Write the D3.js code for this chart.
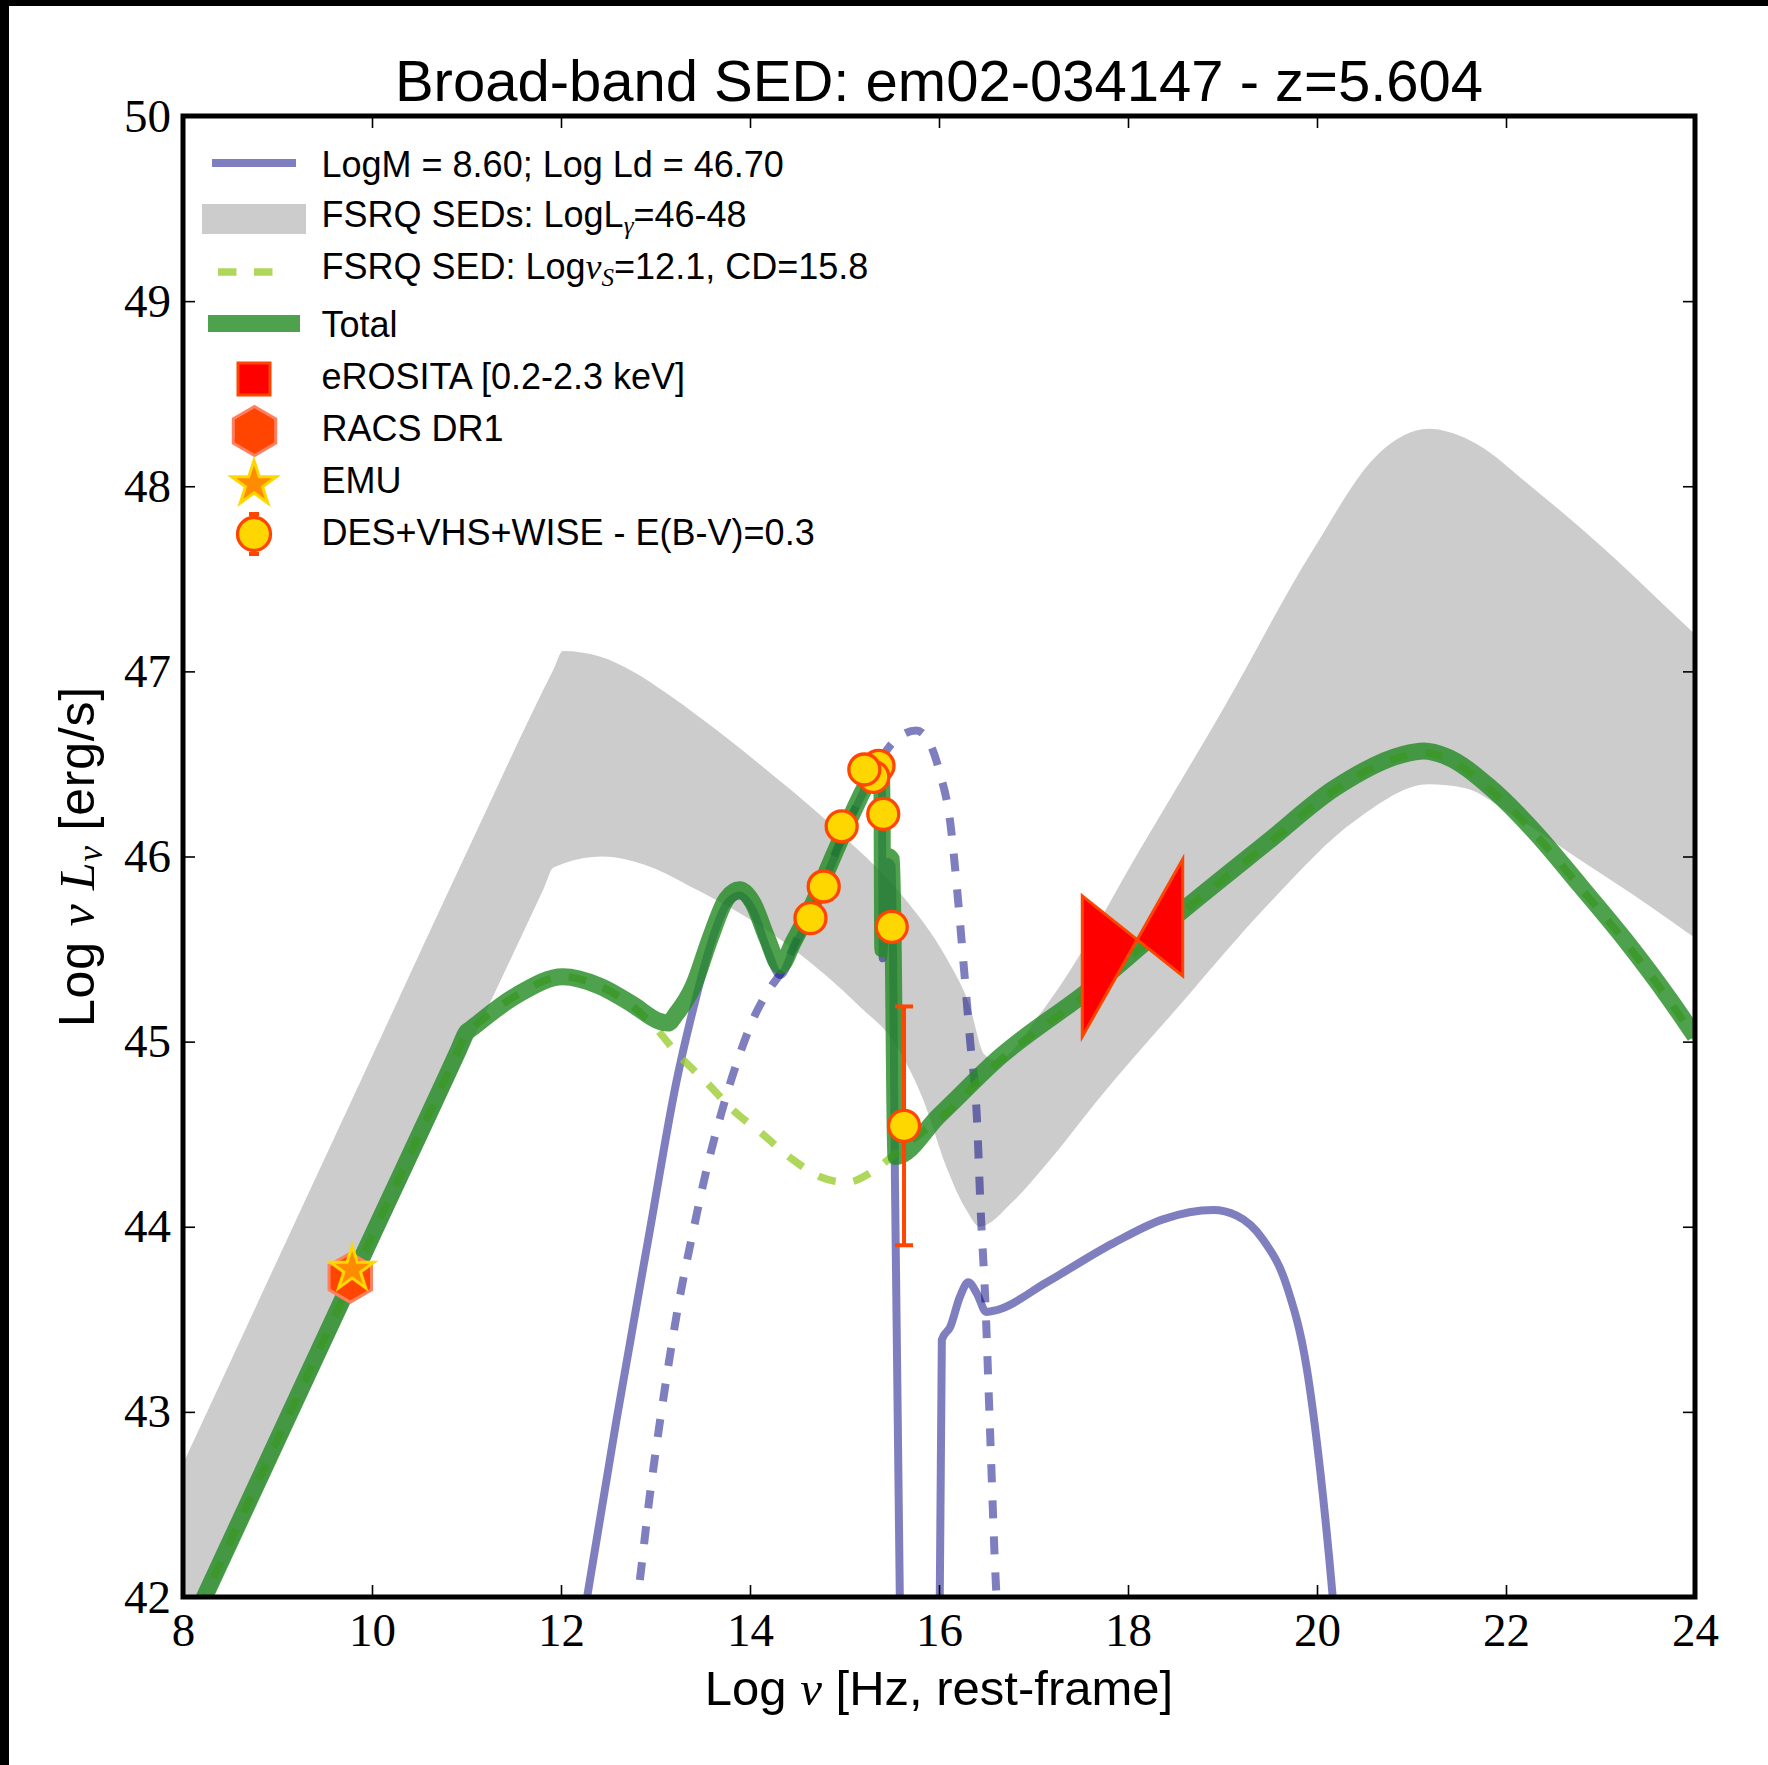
<!DOCTYPE html>
<html>
<head>
<meta charset="utf-8">
<script src="https://cdn.jsdelivr.net/npm/d3@7"></script>
<style>
  body { margin: 0; background: #fff; }
  svg { display: block; }
</style>
</head>
<body>
<svg id="chart" width="1768" height="1765"></svg>
<script>
// ---------------- data (log nu [Hz], log nuLnu [erg/s]) ----------------
const xTicks = [8, 10, 12, 14, 16, 18, 20, 22, 24];
const yTicks = [42, 43, 44, 45, 46, 47, 48, 49, 50];

// FSRQ template envelope, LogLgamma = 48 (upper) and 46 (lower)
const fsrqHigh = [
  [8.0, 42.72], [9.0, 43.82], [10.0, 44.92], [11.0, 46.02], [11.92, 47.01], [12.02, 47.11],
  [12.41, 47.08], [12.76, 47.0], [13.11, 46.885], [13.5, 46.74], [14.17, 46.47],
  [15.01, 46.1], [15.61, 45.79], [16.08, 45.45], [16.32, 45.2], [16.48, 44.93],
  [16.6, 44.9], [17.07, 45.15], [17.28, 45.3], [18.13, 46.04], [19.01, 46.8],
  [19.95, 47.65], [20.66, 48.18], [21.18, 48.31], [21.61, 48.25], [22.31, 47.98],
  [23.02, 47.67], [23.73, 47.33], [24.0, 47.2]
];
const fsrqLow = [
  [8.0, 41.65], [9.0, 42.75], [10.0, 43.84], [11.0, 44.94], [11.82, 45.83], [11.92, 45.94],
  [12.44, 46.0], [12.94, 45.945], [13.4, 45.83], [14.11, 45.625], [14.81, 45.355],
  [15.16, 45.19], [15.52, 45.0], [15.83, 44.69], [16.08, 44.32], [16.29, 44.09],
  [16.43, 44.0], [16.79, 44.14], [17.14, 44.34], [17.68, 44.685], [18.535, 45.19],
  [19.48, 45.74], [20.42, 46.2], [21.18, 46.39], [21.56, 46.37], [22.08, 46.22],
  [22.79, 45.98], [23.5, 45.74], [24.0, 45.56]
];

// Accretion model, LogM = 8.60, Log Ld = 46.70
const diskTorus = [
  [12.2, 41.76], [12.27, 41.98], [12.585, 42.95], [12.94, 43.98], [13.22, 44.78],
  [13.43, 45.24], [13.58, 45.52], [13.75, 45.74], [13.89, 45.79], [14.03, 45.71],
  [14.18, 45.5], [14.32, 45.36], [14.46, 45.5], [14.67, 45.72], [14.88, 45.98],
  [15.09, 46.23], [15.27, 46.41], [15.36, 46.46], [15.395, 46.44], [15.405, 45.45],
  [15.46, 45.97], [15.5, 45.95], [15.535, 44.2], [15.59, 41.8]
];
const corona = [
  [16.005, 41.8], [16.03, 43.39], [16.12, 43.46], [16.22, 43.62], [16.31, 43.7],
  [16.4, 43.64], [16.5, 43.54], [16.61, 43.55], [17.14, 43.7], [17.84, 43.91],
  [18.37, 44.04], [18.9, 44.09], [19.15, 44.06], [19.43, 43.93], [19.68, 43.68],
  [19.89, 43.24], [20.03, 42.7], [20.17, 41.98], [20.2, 41.8]
];
const diskIntrinsic = [
  [12.78, 41.9], [12.81, 42.0], [12.94, 42.55], [13.1, 43.13], [13.25, 43.6],
  [13.4, 43.98], [13.55, 44.33], [13.7, 44.62], [13.87, 44.9], [14.05, 45.14],
  [14.2, 45.28], [14.35, 45.39], [14.5, 45.56], [14.7, 45.78], [14.9, 46.02],
  [15.1, 46.25], [15.3, 46.45], [15.52, 46.62], [15.76, 46.68], [15.87, 46.64],
  [16.01, 46.45], [16.12, 46.18], [16.19, 45.83], [16.26, 45.42], [16.33, 45.0],
  [16.4, 44.6], [16.44, 44.1], [16.49, 43.6], [16.54, 42.9], [16.6, 42.09], [16.62, 41.9]
];

// Jet (FSRQ) model: Log nu_S = 12.1, CD = 15.8
const fsrqModel = [
  [8.0, 41.75], [9.0, 42.85], [10.0, 43.95], [10.92, 44.96], [11.0, 45.05], [11.05, 45.07],
  [11.53, 45.25], [12.02, 45.35], [12.41, 45.3], [12.76, 45.19], [13.01, 45.07],
  [13.22, 44.94], [13.54, 44.78], [13.82, 44.63], [14.11, 44.51], [14.46, 44.36],
  [14.74, 44.27], [15.02, 44.24], [15.3, 44.3], [15.48, 44.37], [15.62, 44.43],
  [16.0, 44.58], [16.65, 44.9], [17.59, 45.27], [18.535, 45.68], [19.48, 46.07],
  [20.19, 46.36], [20.9, 46.54], [21.13, 46.56], [21.37, 46.53], [21.84, 46.36],
  [22.31, 46.12], [22.79, 45.83], [23.26, 45.54], [23.73, 45.22], [24.0, 45.02]
];

// Total = accretion + jet
const totalModel = [
  [8.0, 41.75], [9.0, 42.85], [10.0, 43.95], [10.92, 44.96], [11.0, 45.05], [11.05, 45.07],
  [11.53, 45.25], [12.02, 45.35], [12.41, 45.3], [12.76, 45.2], [13.04, 45.11],
  [13.13, 45.1], [13.22, 45.15], [13.4, 45.3], [13.58, 45.56], [13.75, 45.77],
  [13.89, 45.82], [14.03, 45.75], [14.18, 45.56], [14.32, 45.41], [14.46, 45.54],
  [14.67, 45.75], [14.88, 46.0], [15.09, 46.24], [15.27, 46.42], [15.36, 46.47],
  [15.395, 46.45], [15.405, 45.5], [15.46, 46.0], [15.5, 45.98], [15.545, 44.38],
  [16.0, 44.6], [16.65, 44.92], [17.59, 45.28], [18.535, 45.69], [19.48, 46.08],
  [20.19, 46.37], [20.9, 46.55], [21.13, 46.57], [21.37, 46.54], [21.84, 46.37],
  [22.31, 46.13], [22.79, 45.84], [23.26, 45.55], [23.73, 45.23], [24.0, 45.03]
];

// DES + VHS + WISE photometry, E(B-V) = 0.3
const photX   = [14.64, 14.78, 14.97, 15.36, 15.305, 15.21, 15.41, 15.5, 15.63];
const photY   = [45.667, 45.838, 46.163, 46.49, 46.43, 46.47, 46.23, 45.62, 44.545];
const photErr = [0, 0, 0, 0, 0, 0, 0, 0, 0.645];

// Radio
const racsX = [9.77], racsY = [43.725];
const emuX  = [9.79], emuY  = [43.77];

// eROSITA 0.2-2.3 keV bow-tie: band edges and the range at each edge
const erositaX     = [17.516, 18.579];
const erositaLeft  = [45.027, 45.787];
const erositaRight = [45.355, 45.985];

// ---------------- layout ----------------
const W = 1768, H = 1765;
const X0 = 183, X1 = 1695, Y0 = 116, Y1 = 1597;
const svg = d3.select("#chart");
const x = d3.scaleLinear().domain([8, 24]).range([X0, X1]);
const y = d3.scaleLinear().domain([42, 50]).range([Y1, Y0]);

const SANS = "'Liberation Sans', Arial, Helvetica, sans-serif";
const SERIF = "'Liberation Serif', 'Times New Roman', serif";

svg.append("rect").attr("width", W).attr("height", H).attr("fill", "#fff");
// figure border strip
svg.append("rect").attr("x", 0).attr("y", 0).attr("width", W).attr("height", 6).attr("fill", "#000");
svg.append("rect").attr("x", 0).attr("y", 0).attr("width", 9).attr("height", H).attr("fill", "#000");

svg.append("defs").append("clipPath").attr("id", "plotclip")
  .append("rect").attr("x", X0).attr("y", Y0).attr("width", X1 - X0).attr("height", Y1 - Y0);

const plot = svg.append("g").attr("clip-path", "url(#plotclip)");

const line = d3.line().x(d => x(d[0])).y(d => y(d[1])).curve(d3.curveMonotoneX);

// FSRQ envelope band
const bandPath = line(fsrqHigh) + "L" + line(fsrqLow.slice().reverse()).slice(1) + "Z";
plot.append("path").attr("d", bandPath).attr("fill", "#808080").attr("fill-opacity", 0.4);

const BLUE = "#000080";
// accretion components
[diskTorus, corona].forEach(seg => {
  plot.append("path").attr("d", line(seg)).attr("fill", "none")
    .attr("stroke", BLUE).attr("stroke-opacity", 0.5).attr("stroke-width", 8)
    .attr("stroke-linejoin", "round");
});
plot.append("path").attr("d", line(diskIntrinsic)).attr("fill", "none")
  .attr("stroke", BLUE).attr("stroke-opacity", 0.5).attr("stroke-width", 8)
  .attr("stroke-dasharray", "18 18");

// jet model
plot.append("path").attr("d", line(fsrqModel)).attr("fill", "none")
  .attr("stroke", "#9acd32").attr("stroke-opacity", 0.8).attr("stroke-width", 7.5)
  .attr("stroke-dasharray", "18 18");

// total
plot.append("path").attr("d", line(totalModel)).attr("fill", "none")
  .attr("stroke", "#228b22").attr("stroke-opacity", 0.8).attr("stroke-width", 17)
  .attr("stroke-linejoin", "round");

// eROSITA bow-tie
const bow = [
  [erositaX[0], erositaLeft[1]], [erositaX[1], erositaRight[0]],
  [erositaX[1], erositaRight[1]], [erositaX[0], erositaLeft[0]]
];
plot.append("path")
  .attr("d", "M" + bow.map(p => [x(p[0]), y(p[1])].join(",")).join("L") + "Z")
  .attr("fill", "#ff0000").attr("stroke", "#ff4500").attr("stroke-width", 3)
  .attr("stroke-linejoin", "miter");

// marker shapes
function hexagon(cx, cy, R) {
  const pts = d3.range(6).map(i => {
    const a = -Math.PI / 2 + i * Math.PI / 3;
    return [cx + R * Math.cos(a), cy + R * Math.sin(a)];
  });
  return "M" + pts.map(p => p.join(",")).join("L") + "Z";
}
function star(cx, cy, R) {
  const r = R * 0.381966;
  const pts = d3.range(10).map(i => {
    const a = -Math.PI / 2 + i * Math.PI / 5;
    const rr = i % 2 ? r : R;
    return [cx + rr * Math.cos(a), cy + rr * Math.sin(a)];
  });
  return "M" + pts.map(p => p.join(",")).join("L") + "Z";
}

// radio points
racsX.forEach((v, i) => {
  plot.append("path").attr("d", hexagon(x(v), y(racsY[i]), 24.5))
    .attr("fill", "#ff4500").attr("stroke", "#ff8060").attr("stroke-width", 3);
});
emuX.forEach((v, i) => {
  plot.append("path").attr("d", star(x(v), y(emuY[i]), 23))
    .attr("fill", "#ff8c00").attr("stroke", "#ffd700").attr("stroke-width", 3)
    .attr("stroke-linejoin", "miter");
});

// photometry with error bars
photX.forEach((v, i) => {
  const e = photErr[i];
  if (e > 0) {
    const cx = x(v), yt = y(photY[i] + e), yb = y(photY[i] - e);
    plot.append("line").attr("x1", cx).attr("x2", cx).attr("y1", yt).attr("y2", yb)
      .attr("stroke", "#ff4500").attr("stroke-width", 4);
    [yt, yb].forEach(yy => plot.append("line").attr("x1", cx - 9).attr("x2", cx + 9)
      .attr("y1", yy).attr("y2", yy).attr("stroke", "#ff4500").attr("stroke-width", 4));
  }
});
photX.forEach((v, i) => {
  plot.append("circle").attr("cx", x(v)).attr("cy", y(photY[i])).attr("r", 15.5)
    .attr("fill", "#ffd700").attr("stroke", "#ff4500").attr("stroke-width", 3.3);
});

// ---------------- axes ----------------
const axB = svg.append("g").attr("transform", `translate(0,${Y1})`)
  .call(d3.axisBottom(x).tickValues(xTicks).tickSize(-12).tickFormat(d3.format("d")));
const axT = svg.append("g").attr("transform", `translate(0,${Y0})`)
  .call(d3.axisTop(x).tickValues(xTicks).tickSize(-12).tickFormat(""));
const axL = svg.append("g").attr("transform", `translate(${X0},0)`)
  .call(d3.axisLeft(y).tickValues(yTicks).tickSize(-12).tickFormat(d3.format("d")));
const axR = svg.append("g").attr("transform", `translate(${X1},0)`)
  .call(d3.axisRight(y).tickValues(yTicks).tickSize(-12).tickFormat(""));
[axB, axT, axL, axR].forEach(g => {
  g.select(".domain").remove();
  g.selectAll(".tick line").attr("stroke", "#000").attr("stroke-width", 1.6);
});
axB.selectAll(".tick text").attr("y", 49).attr("dy", 0)
  .style("font-family", SERIF).style("font-size", "47px").attr("fill", "#000");
axL.selectAll(".tick text").attr("x", -12).attr("dy", 0).attr("y", 15)
  .style("font-family", SERIF).style("font-size", "47px").attr("fill", "#000");

// frame
svg.append("rect").attr("x", X0).attr("y", Y0).attr("width", X1 - X0).attr("height", Y1 - Y0)
  .attr("fill", "none").attr("stroke", "#000").attr("stroke-width", 5);

// ---------------- text ----------------
svg.append("text").attr("x", (X0 + X1) / 2).attr("y", 101).attr("text-anchor", "middle")
  .style("font-family", SANS).style("font-size", "58px").text("Broad-band SED: em02-034147 - z=5.604");

const xl = svg.append("text").attr("x", (X0 + X1) / 2).attr("y", 1705).attr("text-anchor", "middle")
  .style("font-family", SANS).style("font-size", "49px");
xl.append("tspan").text("Log ");
xl.append("tspan").style("font-family", SERIF).style("font-style", "italic").text("ν");
xl.append("tspan").text(" [Hz, rest-frame]");

const yl = svg.append("text").attr("transform", `translate(94,${(Y0 + Y1) / 2}) rotate(-90)`)
  .attr("text-anchor", "middle").style("font-family", SANS).style("font-size", "50px")
  .style("letter-spacing", "0.8px");
yl.append("tspan").text("Log ");
yl.append("tspan").style("font-family", SERIF).style("font-style", "italic").text("ν L");
yl.append("tspan").style("font-family", SERIF).style("font-style", "italic")
  .style("font-size", "35px").attr("dy", 8).text("ν");
yl.append("tspan").attr("dy", -8).text(" [erg/s]");

// ---------------- legend ----------------
const lg = svg.append("g");
const LX = 321.5;
lg.append("line").attr("x1", 212).attr("x2", 296).attr("y1", 163).attr("y2", 163)
  .attr("stroke", BLUE).attr("stroke-opacity", 0.5).attr("stroke-width", 8);
lg.append("rect").attr("x", 202).attr("y", 204).attr("width", 104).attr("height", 30)
  .attr("fill", "#808080").attr("fill-opacity", 0.4);
lg.append("line").attr("x1", 218).attr("x2", 273).attr("y1", 272).attr("y2", 272)
  .attr("stroke", "#9acd32").attr("stroke-opacity", 0.8).attr("stroke-width", 7.5)
  .attr("stroke-dasharray", "18.5 17.5");
lg.append("line").attr("x1", 208).attr("x2", 300).attr("y1", 323.5).attr("y2", 323.5)
  .attr("stroke", "#228b22").attr("stroke-opacity", 0.8).attr("stroke-width", 17);
lg.append("rect").attr("x", 238).attr("y", 363).attr("width", 32).attr("height", 32)
  .attr("fill", "#ff0000").attr("stroke", "#ff4500").attr("stroke-width", 3);
lg.append("path").attr("d", hexagon(254.5, 431, 24.5))
  .attr("fill", "#ff4500").attr("stroke", "#ff8060").attr("stroke-width", 3);
lg.append("path").attr("d", star(254, 484, 23.5))
  .attr("fill", "#ff8c00").attr("stroke", "#ffd700").attr("stroke-width", 3);
lg.append("line").attr("x1", 254).attr("x2", 254).attr("y1", 514).attr("y2", 554)
  .attr("stroke", "#ff4500").attr("stroke-width", 4);
[514, 554].forEach(yy => lg.append("line").attr("x1", 249).attr("x2", 259)
  .attr("y1", yy).attr("y2", yy).attr("stroke", "#ff4500").attr("stroke-width", 4));
lg.append("circle").attr("cx", 254).attr("cy", 534).attr("r", 16.5)
  .attr("fill", "#ffd700").attr("stroke", "#ff4500").attr("stroke-width", 3.3);

const legendText = (yy) => lg.append("text").attr("x", LX).attr("y", yy)
  .style("font-family", SANS).style("font-size", "36px");
legendText(177).text("LogM = 8.60; Log Ld = 46.70");
const t2 = legendText(227);
t2.append("tspan").text("FSRQ SEDs: LogL");
t2.append("tspan").style("font-family", SERIF).style("font-style", "italic")
  .style("font-size", "25px").attr("dy", 7).text("γ");
t2.append("tspan").attr("dy", -7).text("=46-48");
const t3 = legendText(279);
t3.append("tspan").text("FSRQ SED: Log");
t3.append("tspan").style("font-family", SERIF).style("font-style", "italic").text("ν");
t3.append("tspan").style("font-family", SERIF).style("font-style", "italic")
  .style("font-size", "25px").attr("dy", 7).text("S");
t3.append("tspan").attr("dy", -7).text("=12.1, CD=15.8");
legendText(337).text("Total");
legendText(389).text("eROSITA [0.2-2.3 keV]");
legendText(441).text("RACS DR1");
legendText(493).text("EMU");
legendText(545).text("DES+VHS+WISE - E(B-V)=0.3");
</script>
</body>
</html>
